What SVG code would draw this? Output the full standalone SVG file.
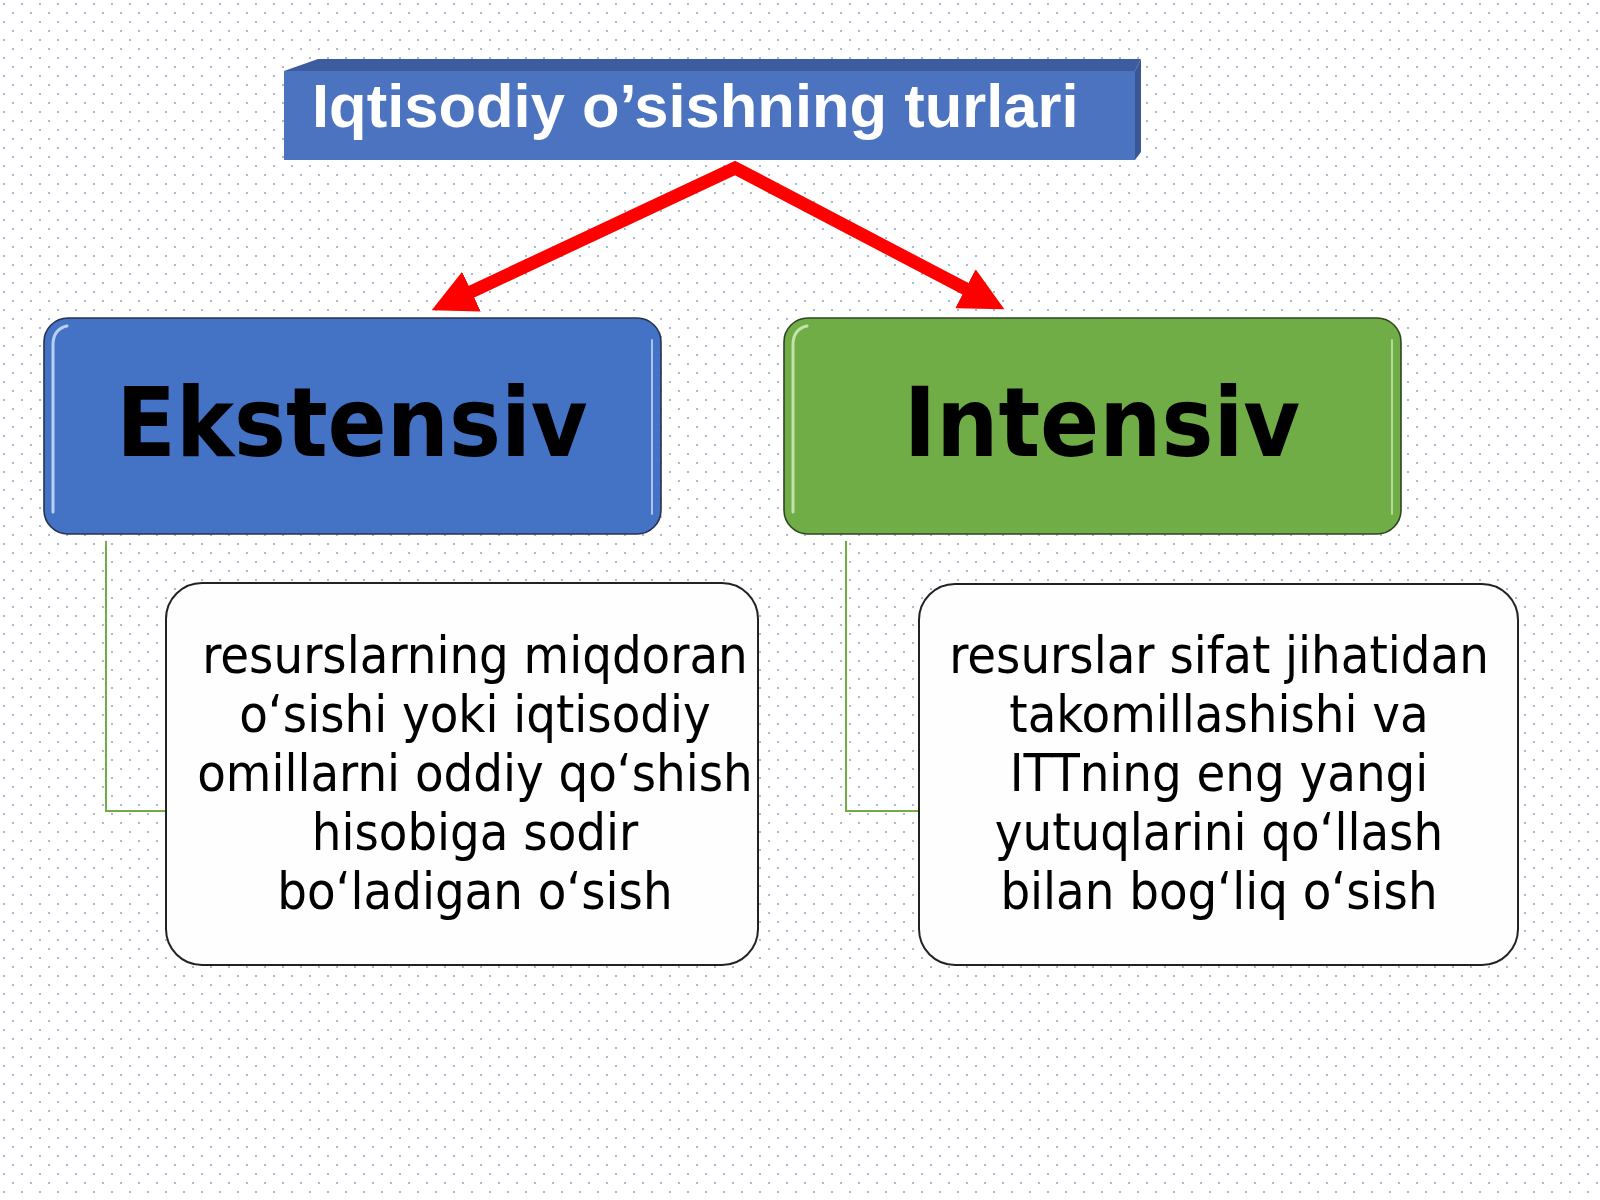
<svg xmlns="http://www.w3.org/2000/svg" width="1600" height="1200" viewBox="0 0 1600 1200">
  <defs>
    <pattern id="dots" width="18" height="18" patternUnits="userSpaceOnUse">
      <circle cx="4" cy="4" r="1.1" fill="#98A8CA"/>
      <circle cx="13" cy="13" r="1.1" fill="#98A8CA"/>
    </pattern>
    <marker id="head" viewBox="0 0 10 10" refX="0.5" refY="5" markerWidth="44" markerHeight="46" markerUnits="userSpaceOnUse" orient="auto-start-reverse">
      <path d="M0,0 L10,5 L0,10 z" fill="#FF0000"/>
    </marker>
    <style>
      .hl { fill: none; stroke-linecap: round; }
      .big { font-family: "DejaVu Sans Condensed", "DejaVu Sans", sans-serif; font-weight: bold; font-size: 97px; fill: #000; text-anchor: middle; }
      .body { font-family: "DejaVu Sans Condensed", "DejaVu Sans", sans-serif; font-size: 52px; fill: #000; text-anchor: middle; }
      .conn { fill: none; stroke: #70AD47; stroke-width: 2; }
      .card { fill: #FEFEFE; stroke: #222; stroke-width: 2; }
    </style>
  </defs>

  <rect x="0" y="0" width="1600" height="1200" fill="#FFFFFF"/>
  <rect x="0" y="0" width="1600" height="1200" fill="url(#dots)"/>

  <g id="title">
    <polygon points="284,71 318,59 1141,59 1135,71" fill="#3D5C9F"/>
    <polygon points="1135,71 1141,59 1141,152 1135,160" fill="#3A5795"/>
    <rect x="284" y="71" width="851" height="89" fill="#4C73BF"/>
    <text x="312" y="127" font-family="Liberation Sans, Arial, sans-serif" font-weight="bold" font-size="61.5" fill="#FFFFFF">Iqtisodiy o’sishning turlari</text>
  </g>

  <g id="connectors">
    <polyline points="469.5,292.6 735,168 967.4,289.8" fill="none" stroke="#FF0000" stroke-width="13" stroke-linejoin="miter" marker-start="url(#head)" marker-end="url(#head)"/>
    <path class="conn" d="M106,541 L106,811 L166,811"/>
    <path class="conn" d="M846,541 L846,811 L919,811"/>
  </g>

  <g id="ekstensiv">
    <rect x="44" y="318" width="617" height="216" rx="24" fill="#4472C4" stroke="#28324A" stroke-width="1.6"/>
    <path class="hl" d="M53,512 L53,345 Q53,329 67,326" stroke="#B9CFF3" stroke-width="3"/>
    <path class="hl" d="M652,340 L652,514" stroke="#A9C2EE" stroke-width="2"/>
    <text class="big" x="352" y="456">Ekstensiv</text>
  </g>

  <g id="intensiv">
    <rect x="784" y="318" width="617" height="216" rx="24" fill="#70AD47" stroke="#2F4422" stroke-width="1.6"/>
    <path class="hl" d="M793,512 L793,345 Q793,329 807,326" stroke="#C3E2AC" stroke-width="3"/>
    <path class="hl" d="M1392,340 L1392,514" stroke="#B5D89C" stroke-width="2"/>
    <text class="big" x="1102" y="456">Intensiv</text>
  </g>

  <g id="ekstensiv-desc">
    <rect class="card" x="166" y="583" width="592" height="382" rx="36"/>
    <text class="body" x="475" y="673">resurslarning miqdoran</text>
    <text class="body" x="475" y="732">o‘sishi yoki iqtisodiy</text>
    <text class="body" x="475" y="791">omillarni oddiy qo‘shish</text>
    <text class="body" x="475" y="850">hisobiga sodir</text>
    <text class="body" x="475" y="909">bo‘ladigan o‘sish</text>
  </g>

  <g id="intensiv-desc">
    <rect class="card" x="919" y="584" width="599" height="381" rx="36"/>
    <text class="body" x="1219" y="673">resurslar sifat jihatidan</text>
    <text class="body" x="1219" y="732">takomillashishi va</text>
    <text class="body" x="1219" y="791">ITTning eng yangi</text>
    <text class="body" x="1219" y="850">yutuqlarini qo‘llash</text>
    <text class="body" x="1219" y="909">bilan bog‘liq o‘sish</text>
  </g>
</svg>
